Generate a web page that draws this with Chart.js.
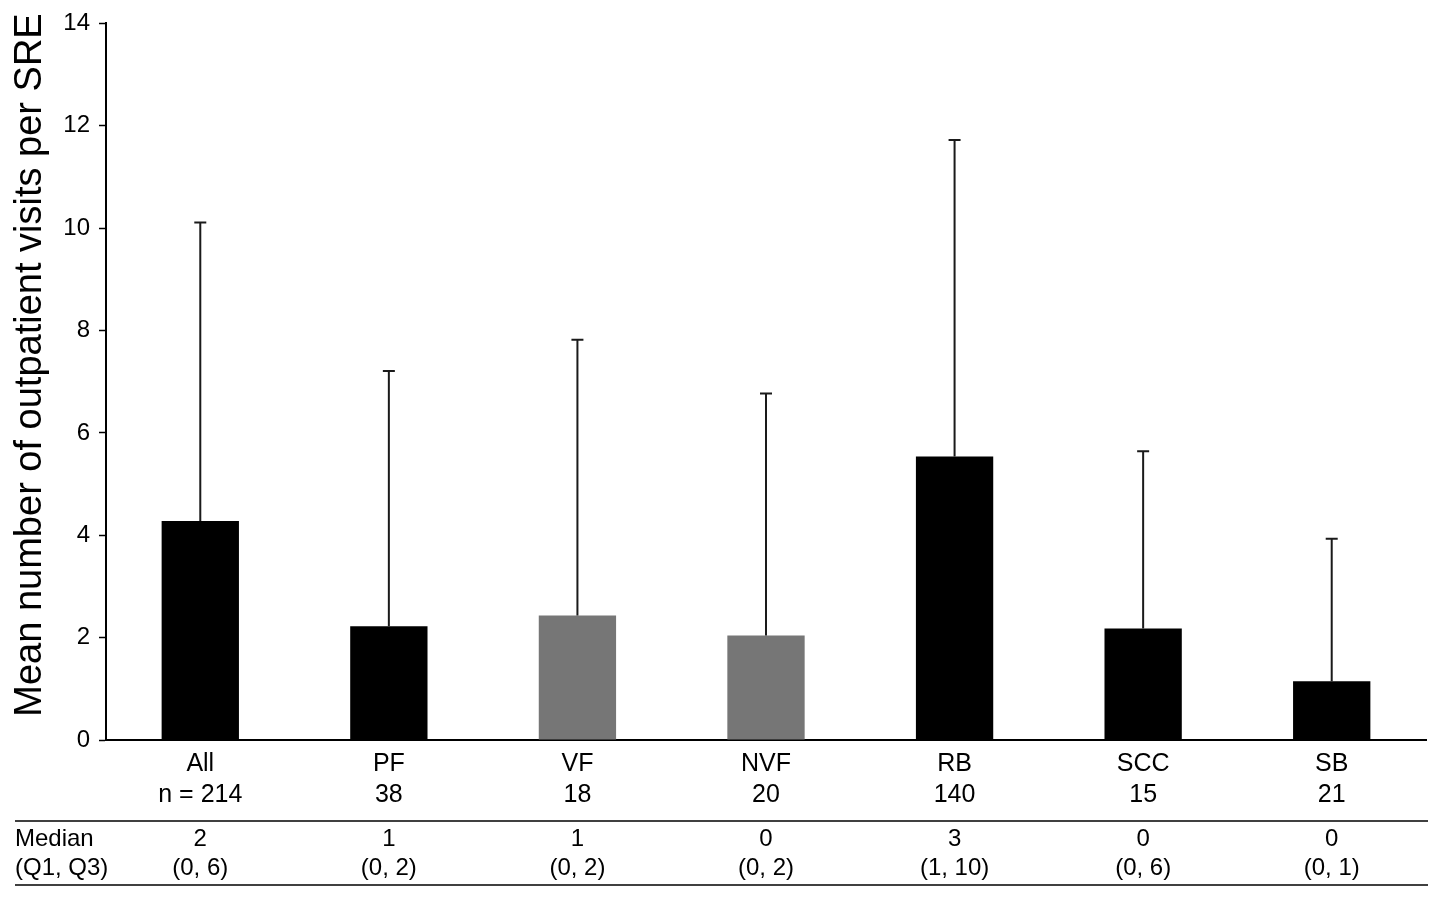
<!DOCTYPE html>
<html>
<head>
<meta charset="utf-8">
<title>Outpatient visits per SRE</title>
<script src="https://cdn.jsdelivr.net/npm/chart.js@4"></script>
<style>
  html, body { margin: 0; padding: 0; background: #fff; }
  #wrap { width: 1441px; height: 899px; }
</style>
</head>
<body>
<div id="wrap"><canvas id="chart" width="1441" height="899"></canvas></div>
<script>
// Data
const categories = ['All', 'PF', 'VF', 'NVF', 'RB', 'SCC', 'SB'];
const sizes = ['n = 214', '38', '18', '20', '140', '15', '21'];
const meanVisits = [4.28, 2.22, 2.43, 2.04, 5.54, 2.18, 1.15];
const sdVisits = [5.83, 4.99, 5.39, 4.73, 6.18, 3.46, 2.78];
const medians = ['2', '1', '1', '0', '3', '0', '0'];
const quartiles = ['(0, 6)', '(0, 2)', '(0, 2)', '(0, 2)', '(1, 10)', '(0, 6)', '(0, 1)'];
const barColors = ['#000000', '#000000', '#767676', '#767676', '#000000', '#000000', '#000000'];
const yTitle = 'Mean number of outpatient visits per SRE';

const FONT = '"Liberation Sans", Arial, Helvetica, sans-serif';

// upper error whiskers (mean + SD) with a small cap
const errorBars = {
  id: 'errorBars',
  afterDatasetsDraw(chart) {
    const { ctx, scales: { y } } = chart;
    const bars = chart.getDatasetMeta(0).data;
    ctx.save();
    ctx.strokeStyle = '#1a1a1a';
    ctx.lineWidth = 2;
    bars.forEach((bar, i) => {
      const top = y.getPixelForValue(meanVisits[i] + sdVisits[i]);
      ctx.beginPath();
      ctx.moveTo(bar.x, bar.y);
      ctx.lineTo(bar.x, top);
      ctx.moveTo(bar.x - 6, top);
      ctx.lineTo(bar.x + 6, top);
      ctx.stroke();
    });
    ctx.restore();
  }
};

// rotated y title, sits a little above the axis middle in the original
const yTitlePlugin = {
  id: 'yTitle',
  afterDraw(chart) {
    const { ctx } = chart;
    ctx.save();
    ctx.translate(31, 365);
    ctx.rotate(-Math.PI / 2);
    ctx.fillStyle = '#000';
    ctx.font = '38px ' + FONT;
    ctx.textAlign = 'center';
    ctx.textBaseline = 'middle';
    ctx.fillText(yTitle, 0, 0);
    ctx.restore();
  }
};

// median / quartile table under the axis
const statsTable = {
  id: 'statsTable',
  afterDraw(chart) {
    const { ctx, scales: { x } } = chart;
    const left = 15, right = 1428;
    ctx.save();
    ctx.strokeStyle = '#000';
    ctx.lineWidth = 1.5;
    [821, 885].forEach((yy) => {
      ctx.beginPath();
      ctx.moveTo(left, yy);
      ctx.lineTo(right, yy);
      ctx.stroke();
    });
    ctx.fillStyle = '#000';
    ctx.font = '24px ' + FONT;
    ctx.textBaseline = 'middle';
    ctx.textAlign = 'left';
    ctx.fillText('Median', left, 839);
    ctx.fillText('(Q1, Q3)', left, 868);
    ctx.textAlign = 'center';
    categories.forEach((c, i) => {
      const cx = x.getPixelForValue(i);
      ctx.fillText(medians[i], cx, 839);
      ctx.fillText(quartiles[i], cx, 868);
    });
    ctx.restore();
  }
};

new Chart(document.getElementById('chart'), {
  type: 'bar',
  data: {
    labels: categories.map((c, i) => [c, sizes[i]]),
    datasets: [{
      data: meanVisits,
      backgroundColor: barColors,
      borderWidth: 0,
      categoryPercentage: 1,
      barPercentage: 0.41
    }]
  },
  options: {
    responsive: false,
    animation: false,
    layout: { padding: { left: 8, right: 15, top: 20, bottom: 0 } },
    plugins: {
      legend: { display: false },
      tooltip: { enabled: false }
    },
    scales: {
      x: {
        grid: { display: false, drawTicks: false },
        border: { color: '#000', width: 2 },
        ticks: {
          color: '#000',
          padding: 8,
          maxRotation: 0,
          autoSkip: false,
          font: { family: FONT, size: 25, lineHeight: 1.26 }
        },
        afterFit(scale) { scale.height = 159; }
      },
      y: {
        min: 0,
        max: 14,
        grid: { drawOnChartArea: false, color: '#000', tickLength: 7, tickWidth: 1.5 },
        border: { color: '#000', width: 2 },
        ticks: {
          stepSize: 2,
          color: '#000',
          padding: 9,
          font: { family: FONT, size: 24 }
        },
        afterFit(scale) { scale.width = 98; }
      }
    }
  },
  plugins: [errorBars, yTitlePlugin, statsTable]
});
</script>
</body>
</html>
